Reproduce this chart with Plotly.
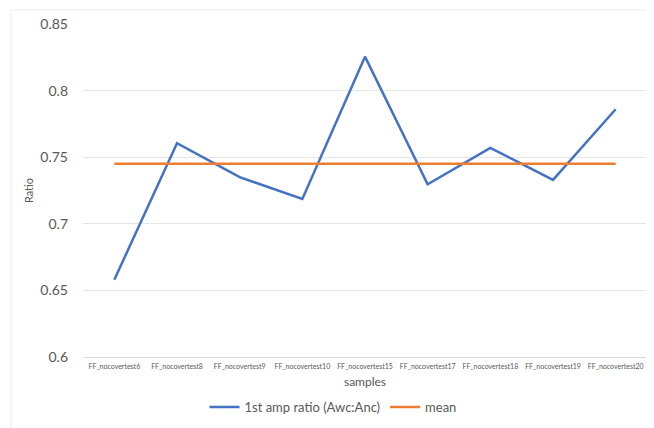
import plotly.graph_objects as go

samples = ["FF_nocovertest6", "FF_nocovertest8", "FF_nocovertest9", "FF_nocovertest10",
           "FF_nocovertest15", "FF_nocovertest17", "FF_nocovertest18", "FF_nocovertest19",
           "FF_nocovertest20"]
ratio = [0.658, 0.7605, 0.735, 0.7187, 0.8255, 0.7297, 0.757, 0.733, 0.786]
mean = [0.745, 0.745, 0.745, 0.745, 0.745, 0.745, 0.745, 0.745, 0.745]
y_ticks = [0.6, 0.65, 0.7, 0.75, 0.8, 0.85]

FONT = "Lato, Carlito, Calibri, sans-serif"

fig = go.Figure()
fig.add_trace(go.Scatter(x=samples, y=ratio, mode="lines", name="1st amp ratio (Awc:Anc)",
                         line=dict(color="#4472C4", width=2.5)))
fig.add_trace(go.Scatter(x=samples, y=mean, mode="lines", name="mean",
                         line=dict(color="#ED7D31", width=2.5)))

OFF = 8  # default page body margin
W, H = 654 - OFF, 428 - OFF
# desired plot area in window pixels: x 83..647, y 24..357
ml = 83 - OFF
mt = 24 - OFF
pw = 647 - 83
ph = 357 - 24
mr = W - ml - pw
mb = H - mt - ph

def px(x):
    return (x - OFF - ml) / pw

def py(y):
    return (mt + ph - (y - OFF)) / ph

fig.update_layout(
    width=W, height=H,
    margin=dict(l=ml, r=mr, t=mt, b=mb, autoexpand=False),
    paper_bgcolor="white", plot_bgcolor="white",
    font=dict(family=FONT, color="#595959"),
    showlegend=True,
    legend=dict(orientation="h", x=px(333), xanchor="center", y=py(407), yanchor="middle",
                font=dict(size=13, color="#595959"), itemwidth=30, tracegroupgap=0),
    xaxis=dict(type="category", range=[-0.5, len(samples) - 0.5], showgrid=False,
               showline=True, linecolor="#D9D9D9", automargin=False,
               linewidth=1, ticks="", tickfont=dict(size=7, color="#595959"),
               ticklabelstandoff=3,
               tickangle=0, title=dict(text="samples", font=dict(size=12, color="#595959"),
                                       standoff=8)),
    yaxis=dict(range=[0.6, 0.85], tickvals=y_ticks, ticktext=[f"{v:g}" for v in y_ticks],
               showgrid=True, gridcolor="#E5E5E5", gridwidth=1, zeroline=False,
               showline=False, ticks="", ticklen=0, ticklabelstandoff=14, automargin=False,
               tickfont=dict(size=14, color="#595959"),
               title=dict(text="Ratio", font=dict(size=11, color="#595959"), standoff=4)),
)

# faint chart border (only top and left visible, as in the reference)
fig.add_shape(type="rect", xref="paper", yref="paper",
              x0=px(11), x1=px(680), y0=py(460), y1=py(10),
              line=dict(color="#EBEBEB", width=1), fillcolor="rgba(0,0,0,0)", layer="below")

fig.write_html("out.html")
